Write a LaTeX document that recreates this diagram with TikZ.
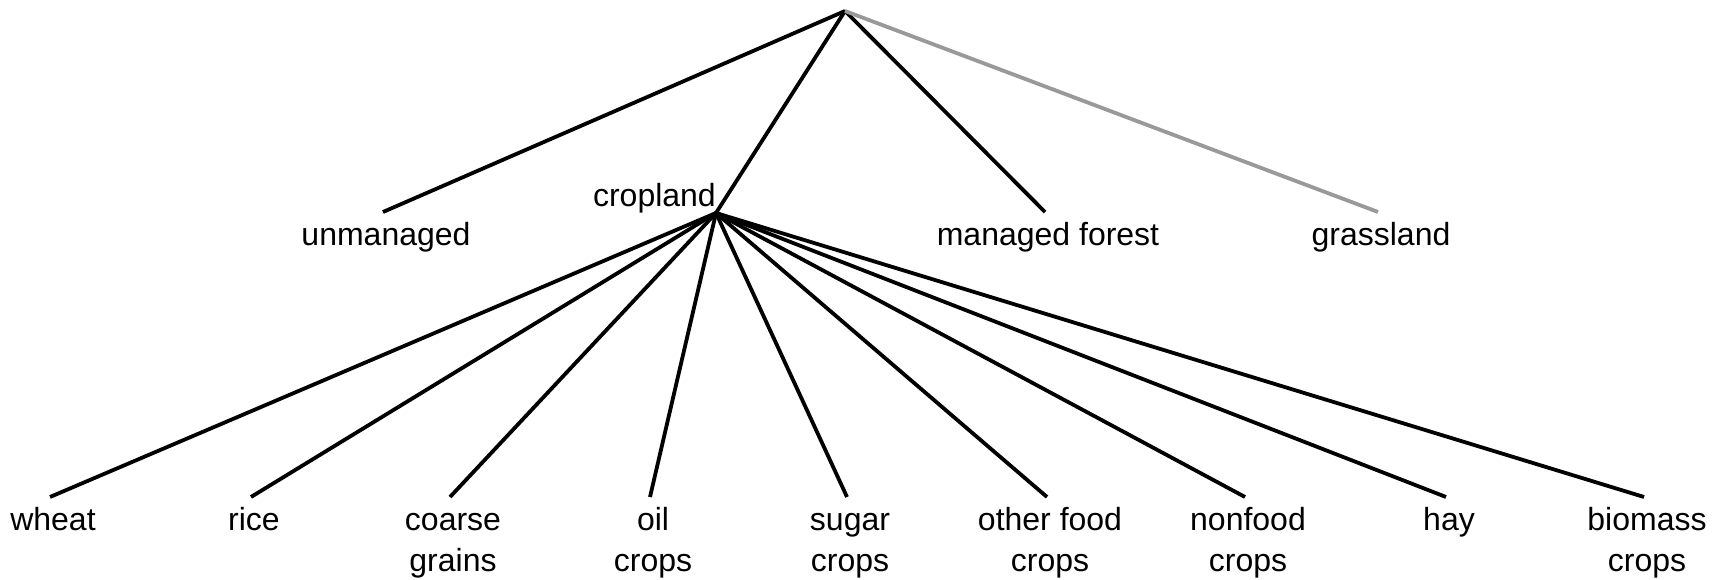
\documentclass[tikz,border=0pt]{standalone}
\usepackage{fontspec}
\setmainfont{Liberation Sans}
\usetikzlibrary{positioning}
\definecolor{grassGray}{HTML}{999999}
\begin{document}
\begin{tikzpicture}[
    x=1pt, y=1pt,
    branch/.style={draw, line width=3.8pt},
    branchGray/.style={draw=grassGray, line width=3.8pt},
    tag/.style={align=center, inner sep=0pt, font=\fontsize{32}{41}\selectfont},
    leafTag/.style={tag, xshift=3pt}
  ]
  \useasboundingbox (0,0) rectangle (1728,580);

  % Land types
  \coordinate (root) at (845,569);
  \coordinate (unmanaged) at (383,368);
  \coordinate (crop) at (716,367);
  \coordinate (forest) at (1045,368);
  \coordinate (grass) at (1378,368);
  \node[leafTag, below=5pt of unmanaged] (unmanagedTag) {\strut unmanaged};
  \node[tag, anchor=base east] (cropTag) at ([yshift=6pt]crop) {cropland};
  \node[leafTag, below=5pt of forest] (forestTag) {\strut managed forest};
  \node[leafTag, below=5pt of grass] (grassTag) {\strut grassland};
  \draw[branch] (root) -- (unmanaged);
  \draw[branch] (root) -- (crop);
  \draw[branch] (root) -- (forest);
  \draw[branchGray] (root) -- (grass);

  % Crop types
  \coordinate (wheat) at (50,83);
  \coordinate (rice) at (251,83);
  \coordinate (coarse) at (450,83);
  \coordinate (oil) at (650,83);
  \coordinate (sugar) at (847,83);
  \coordinate (otherFood) at (1047,83);
  \coordinate (nonfood) at (1245,83);
  \coordinate (hay) at (1446,83);
  \coordinate (biomass) at (1644,83);
  \node[leafTag, below=5pt of wheat] (wheatTag) {\strut wheat};
  \node[leafTag, below=5pt of rice] (riceTag) {\strut rice};
  \node[leafTag, below=5pt of coarse] (coarseTag) {\strut coarse\\grains};
  \node[leafTag, below=5pt of oil] (oilTag) {\strut oil\\crops};
  \node[leafTag, below=5pt of sugar] (sugarTag) {\strut sugar\\crops};
  \node[leafTag, below=5pt of otherFood] (otherFoodTag) {\strut other food\\crops};
  \node[leafTag, below=5pt of nonfood] (nonfoodTag) {\strut nonfood\\crops};
  \node[leafTag, below=5pt of hay] (hayTag) {\strut hay};
  \node[leafTag, below=5pt of biomass] (biomassTag) {\strut biomass\\crops};
  \draw[branch] (crop) -- (wheat);
  \draw[branch] (crop) -- (rice);
  \draw[branch] (crop) -- (coarse);
  \draw[branch] (crop) -- (oil);
  \draw[branch] (crop) -- (sugar);
  \draw[branch] (crop) -- (otherFood);
  \draw[branch] (crop) -- (nonfood);
  \draw[branch] (crop) -- (hay);
  \draw[branch] (crop) -- (biomass);

\end{tikzpicture}
\end{document}
